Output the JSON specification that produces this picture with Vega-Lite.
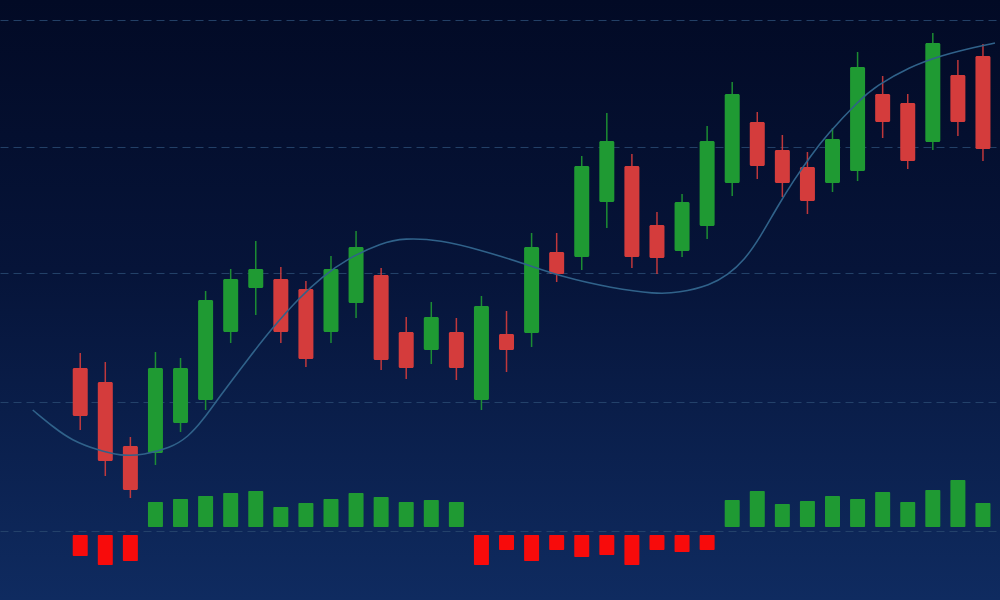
{
  "$schema": "https://vega.github.io/schema/vega-lite/v6.json",
  "width": 1000,
  "height": 600,
  "autosize": {"type": "fit", "contains": "padding"},
  "padding": 0,
  "background": "#020a26",
  "config": {
    "view": {
      "stroke": null,
      "fill": {
        "gradient": "linear",
        "x1": 0, "y1": 0, "x2": 0, "y2": 1,
        "stops": [
          {"offset": 0, "color": "#020a25"},
          {"offset": 0.45, "color": "#061439"},
          {"offset": 1, "color": "#0f2b60"}
        ]
      }
    }
  },
  "datasets": {
    "candles": [
      {"i": 0, "open": 232, "close": 184, "high": 247, "low": 170, "dir": "down"},
      {"i": 1, "open": 218, "close": 139, "high": 238, "low": 124, "dir": "down"},
      {"i": 2, "open": 154, "close": 110, "high": 163, "low": 102, "dir": "down"},
      {"i": 3, "open": 147, "close": 232, "high": 248, "low": 135, "dir": "up"},
      {"i": 4, "open": 177, "close": 232, "high": 242, "low": 168, "dir": "up"},
      {"i": 5, "open": 200, "close": 300, "high": 309, "low": 190, "dir": "up"},
      {"i": 6, "open": 268, "close": 321, "high": 331, "low": 257, "dir": "up"},
      {"i": 7, "open": 312, "close": 331, "high": 359, "low": 285, "dir": "up"},
      {"i": 8, "open": 321, "close": 268, "high": 333, "low": 257, "dir": "down"},
      {"i": 9, "open": 311, "close": 241, "high": 319, "low": 233, "dir": "down"},
      {"i": 10, "open": 268, "close": 331, "high": 344, "low": 257, "dir": "up"},
      {"i": 11, "open": 297, "close": 353, "high": 369, "low": 282, "dir": "up"},
      {"i": 12, "open": 325, "close": 240, "high": 332, "low": 230, "dir": "down"},
      {"i": 13, "open": 268, "close": 232, "high": 283, "low": 221, "dir": "down"},
      {"i": 14, "open": 250, "close": 283, "high": 298, "low": 236, "dir": "up"},
      {"i": 15, "open": 268, "close": 232, "high": 282, "low": 220, "dir": "down"},
      {"i": 16, "open": 200, "close": 294, "high": 304, "low": 190, "dir": "up"},
      {"i": 17, "open": 266, "close": 250, "high": 289, "low": 228, "dir": "down"},
      {"i": 18, "open": 267, "close": 353, "high": 367, "low": 253, "dir": "up"},
      {"i": 19, "open": 348, "close": 326, "high": 367, "low": 318, "dir": "down"},
      {"i": 20, "open": 343, "close": 434, "high": 444, "low": 330, "dir": "up"},
      {"i": 21, "open": 398, "close": 459, "high": 487, "low": 372, "dir": "up"},
      {"i": 22, "open": 434, "close": 343, "high": 446, "low": 332, "dir": "down"},
      {"i": 23, "open": 375, "close": 342, "high": 388, "low": 326, "dir": "down"},
      {"i": 24, "open": 349, "close": 398, "high": 406, "low": 343, "dir": "up"},
      {"i": 25, "open": 374, "close": 459, "high": 474, "low": 361, "dir": "up"},
      {"i": 26, "open": 417, "close": 506, "high": 518, "low": 404, "dir": "up"},
      {"i": 27, "open": 478, "close": 434, "high": 488, "low": 421, "dir": "down"},
      {"i": 28, "open": 450, "close": 417, "high": 465, "low": 403, "dir": "down"},
      {"i": 29, "open": 433, "close": 399, "high": 448, "low": 386, "dir": "down"},
      {"i": 30, "open": 417, "close": 461, "high": 472, "low": 408, "dir": "up"},
      {"i": 31, "open": 429, "close": 533, "high": 548, "low": 419, "dir": "up"},
      {"i": 32, "open": 506, "close": 478, "high": 524, "low": 462, "dir": "down"},
      {"i": 33, "open": 497, "close": 439, "high": 506, "low": 431, "dir": "down"},
      {"i": 34, "open": 458, "close": 557, "high": 567, "low": 450, "dir": "up"},
      {"i": 35, "open": 525, "close": 478, "high": 540, "low": 464, "dir": "down"},
      {"i": 36, "open": 544, "close": 451, "high": 556, "low": 439, "dir": "down"}
    ],
    "hist": [
      {"i": 0, "htop": 65, "hbot": 44, "hdir": "hdown"},
      {"i": 1, "htop": 65, "hbot": 35, "hdir": "hdown"},
      {"i": 2, "htop": 65, "hbot": 39, "hdir": "hdown"},
      {"i": 3, "htop": 98, "hbot": 73, "hdir": "hup"},
      {"i": 4, "htop": 101, "hbot": 73, "hdir": "hup"},
      {"i": 5, "htop": 104, "hbot": 73, "hdir": "hup"},
      {"i": 6, "htop": 107, "hbot": 73, "hdir": "hup"},
      {"i": 7, "htop": 109, "hbot": 73, "hdir": "hup"},
      {"i": 8, "htop": 93, "hbot": 73, "hdir": "hup"},
      {"i": 9, "htop": 97, "hbot": 73, "hdir": "hup"},
      {"i": 10, "htop": 101, "hbot": 73, "hdir": "hup"},
      {"i": 11, "htop": 107, "hbot": 73, "hdir": "hup"},
      {"i": 12, "htop": 103, "hbot": 73, "hdir": "hup"},
      {"i": 13, "htop": 98, "hbot": 73, "hdir": "hup"},
      {"i": 14, "htop": 100, "hbot": 73, "hdir": "hup"},
      {"i": 15, "htop": 98, "hbot": 73, "hdir": "hup"},
      {"i": 16, "htop": 65, "hbot": 35, "hdir": "hdown"},
      {"i": 17, "htop": 65, "hbot": 50, "hdir": "hdown"},
      {"i": 18, "htop": 65, "hbot": 39, "hdir": "hdown"},
      {"i": 19, "htop": 65, "hbot": 50, "hdir": "hdown"},
      {"i": 20, "htop": 65, "hbot": 43, "hdir": "hdown"},
      {"i": 21, "htop": 65, "hbot": 45, "hdir": "hdown"},
      {"i": 22, "htop": 65, "hbot": 35, "hdir": "hdown"},
      {"i": 23, "htop": 65, "hbot": 50, "hdir": "hdown"},
      {"i": 24, "htop": 65, "hbot": 48, "hdir": "hdown"},
      {"i": 25, "htop": 65, "hbot": 50, "hdir": "hdown"},
      {"i": 26, "htop": 100, "hbot": 73, "hdir": "hup"},
      {"i": 27, "htop": 109, "hbot": 73, "hdir": "hup"},
      {"i": 28, "htop": 96, "hbot": 73, "hdir": "hup"},
      {"i": 29, "htop": 99, "hbot": 73, "hdir": "hup"},
      {"i": 30, "htop": 104, "hbot": 73, "hdir": "hup"},
      {"i": 31, "htop": 101, "hbot": 73, "hdir": "hup"},
      {"i": 32, "htop": 108, "hbot": 73, "hdir": "hup"},
      {"i": 33, "htop": 98, "hbot": 73, "hdir": "hup"},
      {"i": 34, "htop": 110, "hbot": 73, "hdir": "hup"},
      {"i": 35, "htop": 120, "hbot": 73, "hdir": "hup"},
      {"i": 36, "htop": 97, "hbot": 73, "hdir": "hup"}
    ],
    "ma": [
      {"t": -1.895, "v": 190}, {"t": -1.026, "v": 172}, {"t": -0.355, "v": 160},
      {"t": 0.671, "v": 150}, {"t": 1.619, "v": 144}, {"t": 2.527, "v": 145},
      {"t": 3.593, "v": 152}, {"t": 4.303, "v": 163}, {"t": 4.895, "v": 180},
      {"t": 5.488, "v": 201}, {"t": 6.751, "v": 243}, {"t": 7.659, "v": 272},
      {"t": 8.725, "v": 302}, {"t": 9.633, "v": 323}, {"t": 10.699, "v": 342},
      {"t": 12.002, "v": 357}, {"t": 12.91, "v": 362}, {"t": 14.37, "v": 360},
      {"t": 15.95, "v": 350}, {"t": 17.647, "v": 337}, {"t": 19.226, "v": 323},
      {"t": 21.2, "v": 312}, {"t": 22.937, "v": 306}, {"t": 23.845, "v": 307},
      {"t": 25.148, "v": 315}, {"t": 25.819, "v": 325}, {"t": 26.49, "v": 340},
      {"t": 27.122, "v": 363}, {"t": 27.793, "v": 393}, {"t": 28.464, "v": 420},
      {"t": 29.096, "v": 443}, {"t": 29.767, "v": 465}, {"t": 31.07, "v": 500},
      {"t": 31.741, "v": 514}, {"t": 33.044, "v": 533}, {"t": 34.386, "v": 545},
      {"t": 35.689, "v": 553}, {"t": 36.479, "v": 557}
    ]
  },
  "layer": [
    {
      "data": {"name": "candles"},
      "mark": {"type": "rule", "strokeWidth": 1.5, "opacity": 0.9},
      "encoding": {
        "x": {"field": "i", "type": "quantitative", "scale": {"domain": [-3, 36.48], "nice": false, "zero": false}, "axis": null},
        "y": {"field": "low", "type": "quantitative", "scale": {"domain": [0, 600], "nice": false, "zero": false},
              "axis": {"values": [69, 198, 327, 453, 580], "grid": true, "gridDash": [8, 5], "gridColor": "#27466e", "gridWidth": 1.2, "gridOpacity": 0.9, "labels": false, "ticks": false, "domain": false, "title": null}},
        "y2": {"field": "high"},
        "color": {"field": "dir", "type": "nominal", "legend": null,
                  "scale": {"domain": ["up", "down", "hup", "hdown"], "range": ["#1f9a33", "#d43c3c", "#1f9a33", "#f80b0b"]}}
      }
    },
    {
      "data": {"name": "candles"},
      "mark": {"type": "bar", "orient": "vertical", "size": 15, "cornerRadius": 1.5},
      "encoding": {
        "x": {"field": "i", "type": "quantitative"},
        "y": {"field": "open", "type": "quantitative"},
        "y2": {"field": "close"},
        "color": {"field": "dir", "type": "nominal", "legend": null}
      }
    },
    {
      "data": {"name": "hist"},
      "mark": {"type": "bar", "orient": "vertical", "size": 15, "cornerRadius": 1},
      "encoding": {
        "x": {"field": "i", "type": "quantitative"},
        "y": {"field": "htop", "type": "quantitative"},
        "y2": {"field": "hbot"},
        "color": {"field": "hdir", "type": "nominal", "legend": null}
      }
    },
    {
      "data": {"name": "ma"},
      "mark": {"type": "line", "interpolate": "basis", "color": "#30628a", "strokeWidth": 1.6},
      "encoding": {
        "x": {"field": "t", "type": "quantitative"},
        "y": {"field": "v", "type": "quantitative"}
      }
    }
  ]
}
